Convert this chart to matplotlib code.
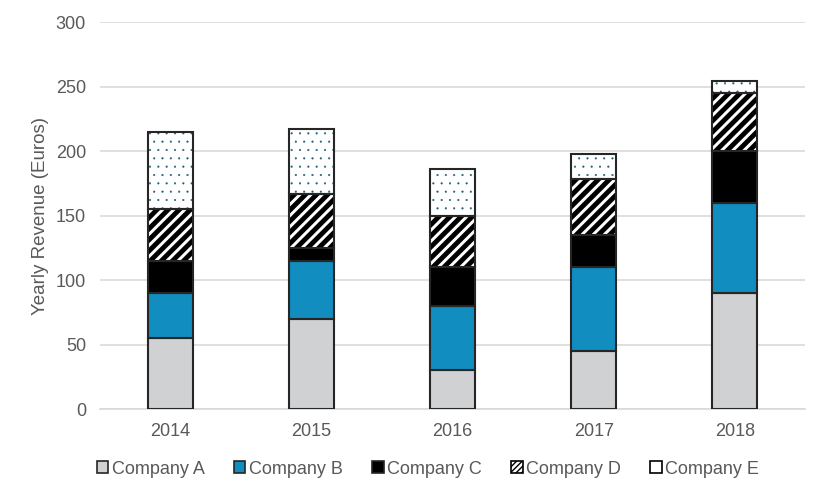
import matplotlib
matplotlib.use("Agg")
import matplotlib.pyplot as plt
import numpy as np
from matplotlib.patches import Patch

years = ["2014", "2015", "2016", "2017", "2018"]
company_a = [55, 70, 30, 45, 90]
company_b = [35, 45, 50, 65, 70]
company_c = [25, 10, 30, 25, 40]
company_d = [40, 42, 40, 43, 45]
company_e = [60, 50, 36, 20, 9]
labels = ["Company A", "Company B", "Company C", "Company D", "Company E"]

plt.rcParams['font.family'] = ['Liberation Sans', 'DejaVu Sans']
text_color = '#595959'
edge = '#262626'

fig = plt.figure(figsize=(8.26, 4.98), dpi=100)
ax = fig.add_axes([0.121, 0.1787, 0.854, 0.7771])

x = np.arange(len(years))
w = 0.32
series = [company_a, company_b, company_c, company_d, company_e]
bottom = np.zeros(len(years))
for i, vals in enumerate(series):
    vals = np.array(vals, dtype=float)
    if i == 0:
        ax.bar(x, vals, w, bottom=bottom, color='#D0D1D3', edgecolor=edge, linewidth=1.5, zorder=3)
    elif i == 1:
        ax.bar(x, vals, w, bottom=bottom, color='#118DC0', edgecolor=edge, linewidth=1.5, zorder=3)
    elif i == 2:
        ax.bar(x, vals, w, bottom=bottom, color='#000000', edgecolor=edge, linewidth=1.5, zorder=3)
    elif i == 3:
        with plt.rc_context({'hatch.linewidth': 3.5}):
            ax.bar(x, vals, w, bottom=bottom, color='white', edgecolor='black', hatch='///', linewidth=0, zorder=3)
        ax.bar(x, vals, w, bottom=bottom, fill=False, edgecolor=edge, linewidth=1.5, zorder=4)
    else:
        with plt.rc_context({'hatch.linewidth': 0.3}):
            ax.bar(x, vals, w, bottom=bottom, color='white', edgecolor='#1F5F7A', hatch='..', linewidth=0, zorder=3)
        ax.bar(x, vals, w, bottom=bottom, fill=False, edgecolor=edge, linewidth=1.5, zorder=4)
    bottom += vals

handles = [
    Patch(facecolor='#D0D1D3', edgecolor=edge, linewidth=1.2),
    Patch(facecolor='#118DC0', edgecolor=edge, linewidth=1.2),
    Patch(facecolor='#000000', edgecolor=edge, linewidth=1.2),
    Patch(facecolor='white', edgecolor='black', hatch='//////', linewidth=1.2),
    Patch(facecolor='white', edgecolor='black', linewidth=1.2),
]

ax.set_ylim(0, 300)
ax.set_xlim(-0.5, 4.5)
ax.set_yticks(range(0, 301, 50))
ax.set_xticks(x)
ax.set_xticklabels(years)
ax.yaxis.grid(True, color='#D9D9D9', linewidth=1.2, zorder=0)
ax.set_axisbelow(True)
for s in ['top', 'right', 'left']:
    ax.spines[s].set_visible(False)
ax.spines['bottom'].set_color('#D9D9D9')
ax.spines['bottom'].set_linewidth(1.2)
ax.tick_params(axis='both', length=0, labelsize=13, colors=text_color, pad=10)
ax.set_ylabel('Yearly Revenue (Euros)', fontsize=13.5, color=text_color, labelpad=5)

fig.legend(handles, labels, loc='lower center', bbox_to_anchor=(0.518, 0.008), ncol=5, frameon=False,
           fontsize=13, handlelength=0.65, handleheight=0.65, handletextpad=0.2, columnspacing=1.6,
           labelcolor=text_color)

fig.savefig('out.png', dpi=100)
